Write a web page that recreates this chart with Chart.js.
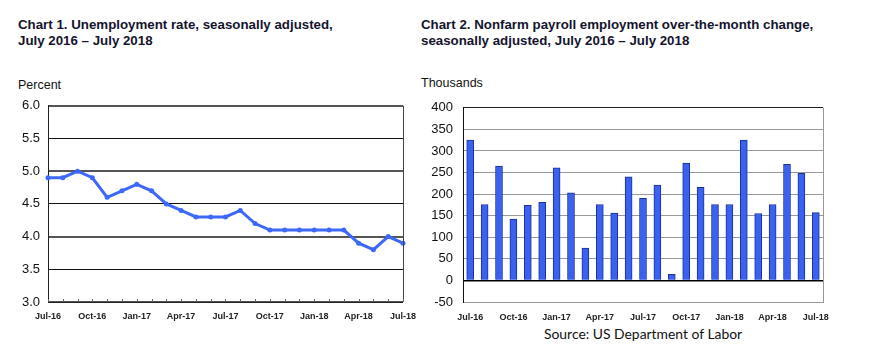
<!DOCTYPE html>
<html>
<head>
<meta charset="utf-8">
<script src="https://cdn.jsdelivr.net/npm/chart.js@4"></script>
<style>
  html, body { margin:0; padding:0; background:#fff; }
  body { width:875px; height:352px; position:relative; overflow:hidden; font-family:"Liberation Sans", Arial, sans-serif; }
  .title { position:absolute; font-weight:bold; font-size:13.3px; line-height:16px; color:#14142e; white-space:nowrap; }
  .unit { position:absolute; font-size:12.5px; color:#111; }
  .source { position:absolute; font-family:"Lato","Noto Sans",sans-serif; font-size:13.9px; color:#111; white-space:nowrap; }
  canvas { position:absolute; }
</style>
</head>
<body>
<div class="title" style="left:18px; top:17px;">Chart 1. Unemployment rate, seasonally adjusted,<br>July 2016 – July 2018</div>
<div class="title" style="left:421px; top:17px;">Chart 2. Nonfarm payroll employment over-the-month change,<br>seasonally adjusted, July 2016 – July 2018</div>
<div class="unit" style="left:18px; top:78px;">Percent</div>
<div class="unit" style="left:421px; top:76px;">Thousands</div>
<div class="source" style="left:544px; top:325px;">Source: US Department of Labor</div>
<canvas id="c1" width="425" height="240" style="left:0px; top:90px;"></canvas>
<canvas id="c2" width="440" height="240" style="left:415px; top:90px;"></canvas>
<script>
const months = ["Jul-16","Aug-16","Sep-16","Oct-16","Nov-16","Dec-16","Jan-17","Feb-17","Mar-17","Apr-17","May-17","Jun-17","Jul-17","Aug-17","Sep-17","Oct-17","Nov-17","Dec-17","Jan-18","Feb-18","Mar-18","Apr-18","May-18","Jun-18","Jul-18"];
const unemploymentRate = [4.9,4.9,5.0,4.9,4.6,4.7,4.8,4.7,4.5,4.4,4.3,4.3,4.3,4.4,4.2,4.1,4.1,4.1,4.1,4.1,4.1,3.9,3.8,4.0,3.9];
const payrollChange = [325,176,265,142,174,181,261,203,75,176,156,240,190,221,14,272,216,176,176,325,155,176,269,248,157];
const rateTicks = [3.0,3.5,4.0,4.5,5.0,5.5,6.0];
const payrollTicks = [-50,0,50,100,150,200,250,300,350,400];

const tickFont = { family: "Liberation Sans", size: 13 };
const xFont = { family: "Liberation Sans", size: 9, weight: "bold" };

const frame = (rightColor) => ({
  id: 'frame',
  afterDraw(chart) {
    const a = chart.chartArea, ctx = chart.ctx;
    ctx.save();
    ctx.lineWidth = 1;
    ctx.strokeStyle = rightColor;
    ctx.beginPath(); ctx.moveTo(Math.round(a.right)+0.5, a.top); ctx.lineTo(Math.round(a.right)+0.5, a.bottom); ctx.stroke();
    ctx.restore();
  }
});

const monthTicks = {
  id: 'monthTicks',
  afterDraw(chart) {
    const x = chart.scales.x, a = chart.chartArea, ctx = chart.ctx;
    ctx.save();
    ctx.strokeStyle = '#666'; ctx.lineWidth = 1;
    for (let i = 0; i < months.length; i++) {
      const px = Math.round(x.getPixelForValue(i)) + 0.5;
      ctx.beginPath(); ctx.moveTo(px, a.bottom); ctx.lineTo(px, a.bottom - 3); ctx.stroke();
    }
    ctx.restore();
  }
};

new Chart(document.getElementById('c1'), {
  type: 'line',
  data: { labels: months, datasets: [{ data: unemploymentRate, borderColor: '#3d68fb', backgroundColor: '#3d68fb', borderWidth: 3, pointRadius: 2.5, pointBorderWidth: 0, tension: 0 }] },
  options: {
    responsive: false, animation: false, devicePixelRatio: 1,
    layout: { padding: { left: 0, right: 18, top: 14, bottom: 0 } },
    plugins: { legend: { display: false }, tooltip: { enabled: false } },
    scales: {
      x: {
        offset: false,
        grid: { display: false, drawTicks: false },
        border: { display: true, color: '#222', width: 1 },
        ticks: { autoSkip: false, maxRotation: 0, padding: 9, color: '#222', font: xFont,
                 callback: (v, i) => (i % 3 === 0 ? months[i] : '') },
        afterFit: s => { s.height = 28; }
      },
      y: {
        min: 3.0, max: 6.0,
        afterBuildTicks: s => { s.ticks = rateTicks.map(v => ({ value: v })); },
        grid: { drawTicks: false, color: ctx => (Math.abs(ctx.tick.value % 1) < 1e-6 ? '#555' : '#111'),
                lineWidth: ctx => (Math.abs(ctx.tick.value % 1) < 1e-6 ? 2 : 1) },
        border: { display: true, color: '#222', width: 1 },
        ticks: { padding: 8, color: '#111', font: tickFont, callback: v => v.toFixed(1) },
        afterFit: s => { s.width = 48; }
      }
    }
  },
  plugins: [frame('#444'), monthTicks]
});

new Chart(document.getElementById('c2'), {
  type: 'bar',
  data: { labels: months, datasets: [{ data: payrollChange, backgroundColor: '#3a62f0', borderColor: '#1d2f9a', borderWidth: 1, barThickness: 7 }] },
  options: {
    responsive: false, animation: false, devicePixelRatio: 1,
    layout: { padding: { left: 0, right: 32, top: 15, bottom: 0 } },
    plugins: { legend: { display: false }, tooltip: { enabled: false } },
    scales: {
      x: {
        offset: true,
        grid: { display: false, drawTicks: false },
        border: { display: true, color: '#999', width: 1 },
        ticks: { autoSkip: false, maxRotation: 0, padding: 10, color: '#222', font: xFont,
                 callback: (v, i) => (i % 3 === 0 ? months[i] : '') },
        afterFit: s => { s.height = 28; }
      },
      y: {
        min: -50, max: 400,
        afterBuildTicks: s => { s.ticks = payrollTicks.map(v => ({ value: v })); },
        grid: { drawTicks: false,
                color: ctx => (ctx.tick.value === 0 ? '#000' : (ctx.tick.value === 400 ? '#222' : '#999')),
                lineWidth: ctx => (ctx.tick.value === 0 ? 1.5 : 1) },
        border: { display: true, color: '#111', width: 1 },
        ticks: { padding: 10, color: '#111', font: tickFont },
        afterFit: s => { s.width = 48; }
      }
    }
  },
  plugins: [frame('#999')]
});
</script>
</body>
</html>
